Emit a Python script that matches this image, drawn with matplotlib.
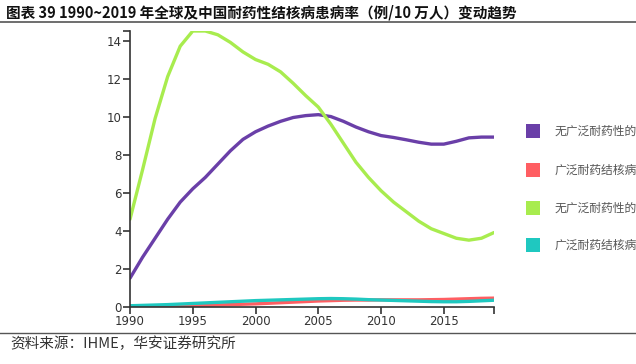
import matplotlib
matplotlib.use("Agg")
import matplotlib.pyplot as plt
from matplotlib.patches import Rectangle
from matplotlib.lines import Line2D

plt.rcParams['font.family'] = ['Noto Sans CJK SC', 'DejaVu Sans']

years = list(range(1990, 2020))

# 例/10万人
global_mdr = [1.5, 2.6, 3.6, 4.6, 5.5, 6.2, 6.8, 7.5, 8.2, 8.8,
              9.2, 9.5, 9.75, 9.95, 10.05, 10.1, 10.0, 9.75, 9.45, 9.2,
              9.0, 8.9, 8.78, 8.65, 8.55, 8.55, 8.7, 8.88, 8.92, 8.92]
global_xdr = [0.0, 0.0, 0.01, 0.02, 0.03, 0.05, 0.07, 0.09, 0.11, 0.13,
              0.15, 0.18, 0.21, 0.24, 0.27, 0.3, 0.32, 0.34, 0.35, 0.35,
              0.36, 0.36, 0.36, 0.36, 0.37, 0.38, 0.4, 0.42, 0.44, 0.45]
china_mdr = [4.6, 7.2, 9.9, 12.1, 13.7, 14.5, 14.5, 14.3, 13.9, 13.4,
             13.0, 12.75, 12.35, 11.75, 11.1, 10.5, 9.6, 8.6, 7.6, 6.8,
             6.1, 5.5, 5.0, 4.5, 4.1, 3.85, 3.6, 3.5, 3.6, 3.9]
china_xdr = [0.05, 0.07, 0.09, 0.11, 0.14, 0.17, 0.2, 0.23, 0.26, 0.29,
             0.32, 0.34, 0.36, 0.38, 0.4, 0.42, 0.43, 0.42, 0.4, 0.37,
             0.35, 0.33, 0.31, 0.29, 0.27, 0.26, 0.26, 0.28, 0.31, 0.34]

labels = ["无广泛耐药性的耐多药结核病（全球）", "广泛耐药结核病（全球）",
          "无广泛耐药性的耐多药结核病（中国）", "广泛耐药结核病（中国）"]
colors = ["#6a3fa8", "#ff5e62", "#a8ec4e", "#1fc8c0"]
series = [global_mdr, global_xdr, china_mdr, china_xdr]

fig = plt.figure(figsize=(6.36, 3.64), dpi=100)
ax = fig.add_axes([130/636, 1-306.7/364, 364/636, (306.7-31)/364])

for s, c in zip(series, colors):
    ax.plot(years, s, color=c, lw=2.4, solid_capstyle='round')

ax.set_xlim(1990, 2019)
ax.set_ylim(0, 14.5)
ax.set_xticks([1990, 1995, 2000, 2005, 2010, 2015])
ax.set_yticks([0, 2, 4, 6, 8, 10, 12, 14])
ax.set_xticks([2019], minor=True)
ax.set_yticks([14.5], minor=True)
for sp in ['top', 'right']:
    ax.spines[sp].set_visible(False)
for sp in ['left', 'bottom']:
    ax.spines[sp].set_color('#333333')
    ax.spines[sp].set_linewidth(1.2)
ax.tick_params(which='both', length=5, width=1.2, color='#333333',
               labelsize=8.5, labelcolor='#333333', pad=1)
for t in ax.get_xticklabels() + ax.get_yticklabels():
    t.set_family('DejaVu Sans')

# 图例（右侧超出画面部分被裁掉，与原图一致）
ys = [131, 170, 208, 245]
for y, lab, c in zip(ys, labels, colors):
    fig.add_artist(Rectangle((526/636, 1-(y+7)/364), 14/636, 14/364,
                             transform=fig.transFigure, color=c, lw=0))
    fig.text(555/636, 1-y/364, lab, fontsize=8.5, color='#555555', va='center')

fig.text(6/636, 1-12/364, "图表 39 1990~2019 年全球及中国耐药性结核病患病率（例/10 万人）变动趋势",
         fontsize=10.5, fontweight='bold', va='center', color='#111111')
fig.add_artist(Line2D([0, 1], [1-22/364, 1-22/364], transform=fig.transFigure,
                      color='#555555', lw=1.2))
fig.add_artist(Line2D([0, 1], [1-333/364, 1-333/364], transform=fig.transFigure,
                      color='#555555', lw=1.0))
fig.text(10/636, 1-344/364, "资料来源：IHME，华安证券研究所", fontsize=10.5,
         color='#333333', va='center')

fig.savefig("out.png", dpi=100)
